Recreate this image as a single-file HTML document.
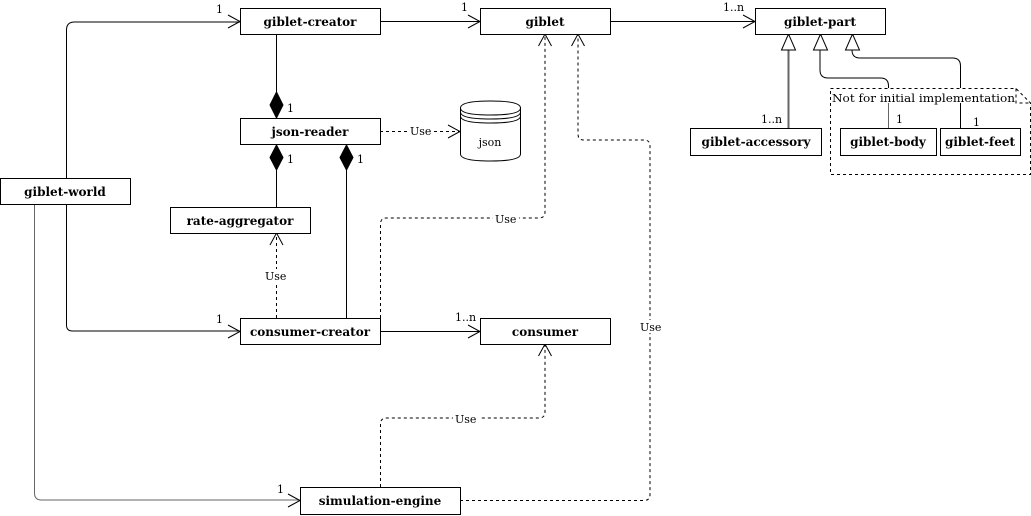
<!DOCTYPE html>
<html><head><meta charset="utf-8"><style>
html,body{margin:0;padding:0;background:#fff;}
svg{display:block;}
text{font-family:"DejaVu Serif","Liberation Serif",serif;font-size:11px;fill:#000;}
.b{font-weight:bold;font-size:12px;text-anchor:middle;}
</style></head><body>
<svg width="1031" height="516" viewBox="0 0 1031 516" xmlns="http://www.w3.org/2000/svg">
<g fill="none" stroke="#000" stroke-width="1">
<path d="M66.5 178V30q0-8 8-8H240"/>
<path d="M228 15L240 21.5L228 28"/>
<path d="M66.5 204V325q0 6 6 6H240"/>
<path d="M228 325L240 331.5L228 338"/>
<path d="M34.5 204V493q0 7 7 7H300" stroke="#666"/>
<path d="M288 494L300 500.5L288 507"/>
<path d="M380 21.5H480M468 15L480 21.5L468 28"/>
<path d="M610 21.5H755M743 15L755 21.5L743 28"/>
<path d="M380 331.5H480M468 325L480 331.5L468 338"/>
<path d="M276.5 34V92"/>
<path d="M276.5 170V207"/>
<path d="M346.5 170V318"/>
<path d="M788.5 128V50" stroke="#666" stroke-width="2"/>
<path d="M888.5 128V103" stroke="#666"/>
<path d="M888.5 88V86q0-8-8-8H828q-8 0-8-8V50"/>
<path d="M960.5 128V103"/>
<path d="M960.5 88V66q0-8-8-8H860q-8 0-8-8V50"/>
</g>
<g fill="#fff" stroke="#000">
<path d="M788.5 34L781.5 50H795.5Z"/>
<path d="M820.5 34L813.5 50H827.5Z"/>
<path d="M852.5 34L845.5 50H859.5Z"/>
</g>
<g fill="#000" stroke="#000">
<path d="M276.5 118L270 105L276.5 92L283 105Z"/>
<path d="M276.5 145L270 157.5L276.5 170L283 157.5Z"/>
<path d="M346.5 145L340 157.5L346.5 170L353 157.5Z"/>
</g>
<g fill="none" stroke="#000" stroke-dasharray="3,3">
<path d="M380 131.5H460"/>
<path d="M276.5 318V233"/>
<path d="M380.5 318V224q0-6 6-6H539q6 0 6-6V34"/>
<path d="M380.5 487V424q0-6 6-6H539q6 0 6-6V344"/>
<path d="M460 500.5H644q6 0 6-6V146q0-6-6-6H584q-6 0-6-6V34"/>
<path d="M830.5 88.5H1016L1030.5 103V174.5H830.5Z"/>
<path d="M1016 88.5V103H1030.5"/>
</g>
<g fill="none" stroke="#000">
<path d="M448 125L460 131.5L448 138"/>
<path d="M270 245L276.5 233L283 245"/>
<path d="M538.5 46L545 34L551.5 46"/>
<path d="M538.5 356L545 344L551.5 356"/>
<path d="M571.5 46L578 34L584.5 46"/>
</g>
<g>
<rect x="408" y="125" width="25" height="13" fill="#fff"/>
<text x="410" y="135">Use</text>
<rect x="263" y="269" width="26" height="13" fill="#fff"/>
<text x="265" y="280">Use</text>
<rect x="493" y="212" width="26" height="13" fill="#fff"/>
<text x="495" y="223">Use</text>
<rect x="453" y="412" width="26" height="13" fill="#fff"/>
<text x="455" y="423">Use</text>
<rect x="638" y="320" width="26" height="13" fill="#fff"/>
<text x="640" y="331">Use</text>
<text x="216" y="13">1</text>
<text x="461" y="11">1</text>
<text x="723" y="11">1..n</text>
<text x="287" y="112">1</text>
<text x="287" y="163">1</text>
<text x="357" y="163">1</text>
<text x="216" y="323">1</text>
<text x="455" y="321">1..n</text>
<text x="277" y="493">1</text>
<text x="761" y="123">1..n</text>
<text x="896" y="123">1</text>
<text x="973" y="126">1</text>
<text x="832" y="102" font-size="13" textLength="183" lengthAdjust="spacingAndGlyphs">Not for initial implementation</text>
</g>
<g fill="#fff" stroke="#000">
<rect x="240.5" y="8.5" width="140" height="26"/>
<rect x="480.5" y="8.5" width="130" height="26"/>
<rect x="755.5" y="8.5" width="130" height="26"/>
<rect x="240.5" y="118.5" width="140" height="26"/>
<rect x="0.5" y="178.5" width="130" height="26"/>
<rect x="170.5" y="207.5" width="140" height="26"/>
<rect x="240.5" y="318.5" width="140" height="26"/>
<rect x="480.5" y="318.5" width="130" height="26"/>
<rect x="300.5" y="487.5" width="160" height="27"/>
<rect x="690.5" y="128.5" width="131" height="27"/>
<rect x="840.5" y="128.5" width="96" height="27"/>
<rect x="940.5" y="128.5" width="80" height="27"/>
<path d="M460.5 108V154q0 7 30 7t30-7V108q0-7-30-7t-30 7Z"/>
<path d="M460.5 108q0 7 30 7t30-7M460.5 112q0 7 30 7t30-7M460.5 116q0 7 30 7t30-7" fill="none"/>
</g>
<text class="b" x="310" y="26">giblet-creator</text>
<text class="b" x="545" y="26">giblet</text>
<text class="b" x="820" y="26">giblet-part</text>
<text class="b" x="310" y="136">json-reader</text>
<text class="b" x="65" y="196">giblet-world</text>
<text class="b" x="240" y="225">rate-aggregator</text>
<text class="b" x="310" y="336">consumer-creator</text>
<text class="b" x="545" y="336">consumer</text>
<text class="b" x="380" y="505">simulation-engine</text>
<text class="b" x="756" y="146">giblet-accessory</text>
<text class="b" x="888" y="146">giblet-body</text>
<text class="b" x="980" y="146">giblet-feet</text>
<text x="490" y="146" text-anchor="middle" font-size="12">json</text>
</svg>
</body></html>
